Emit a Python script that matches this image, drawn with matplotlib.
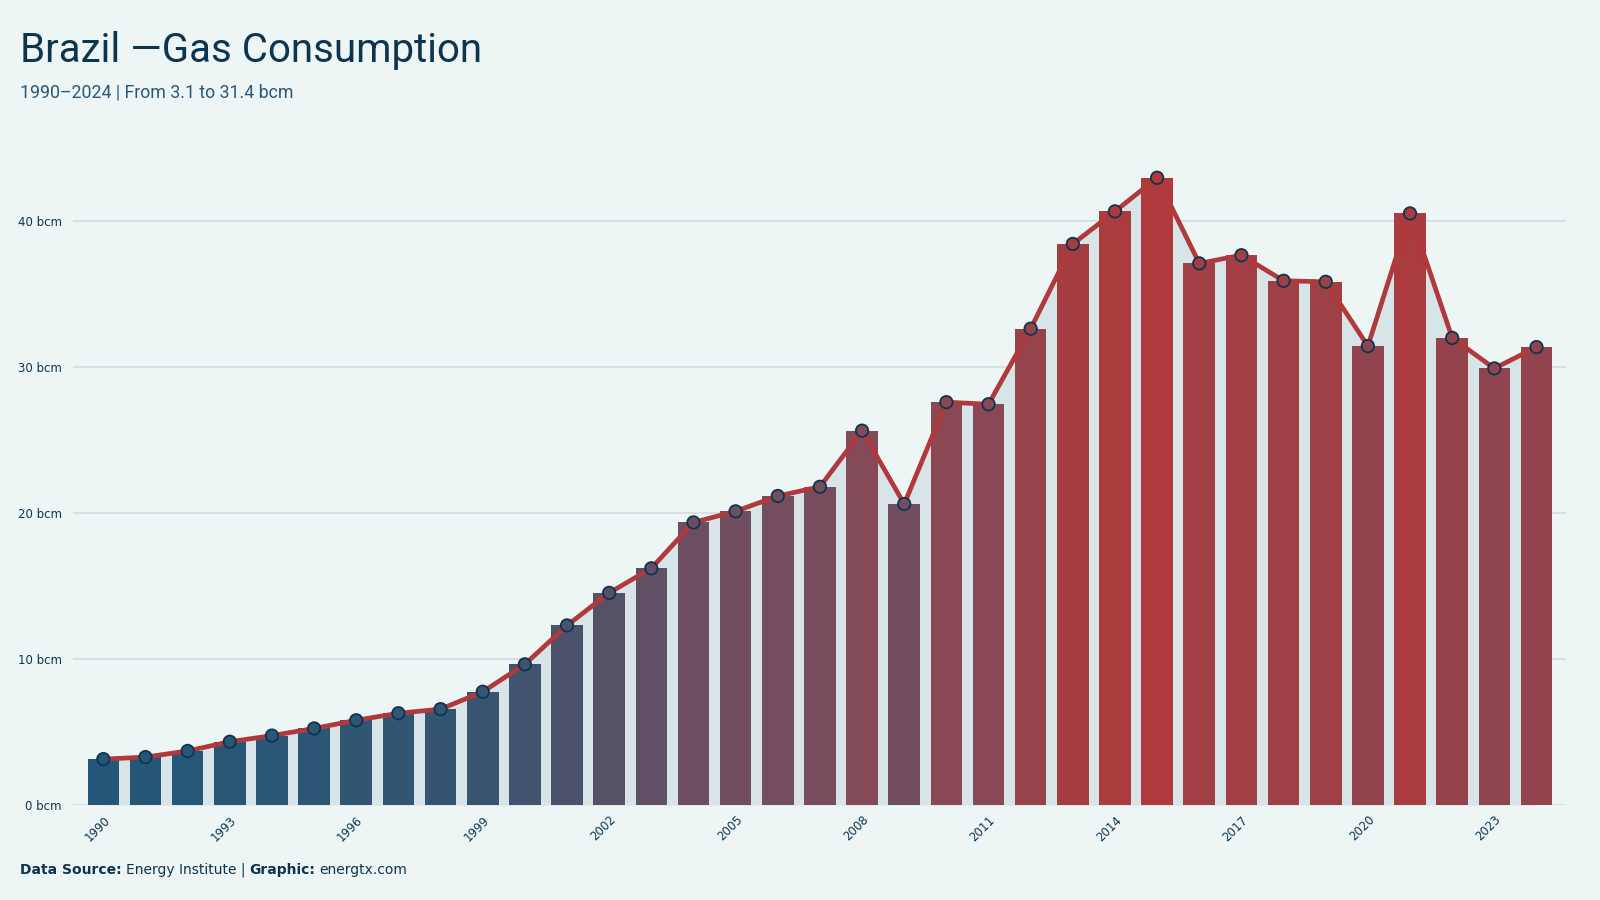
import matplotlib
matplotlib.use("Agg")
import matplotlib.pyplot as plt
import numpy as np
from matplotlib.colors import LinearSegmentedColormap, Normalize

years = list(range(1990, 2025))
values = [3.14, 3.28, 3.70, 4.33, 4.75, 5.24, 5.80, 6.28, 6.56, 7.75,
          9.63, 12.29, 14.52, 16.20, 19.34, 20.10, 21.15, 21.78, 25.62, 20.60,
          27.57, 27.43, 32.60, 38.40, 40.63, 42.93, 37.07, 37.63, 35.88, 35.81,
          31.41, 40.49, 31.97, 29.88, 31.34]
ytick_vals = [0, 10, 20, 30, 40]
ytick_labels = [f"{v} bcm" for v in ytick_vals]
xtick_years = list(range(1990, 2025, 3))

BG = "#eef5f5"
NAVY = "#0d3550"
LINE = "#b0393b"
FILL = "#d7e4e8"
GRID = "#d3dee1"

cmap = LinearSegmentedColormap.from_list(
    "br", [(0.0, "#245777"), (0.5, "#7d4c5b"), (1.0, "#b0393b")])
norm = Normalize(vmin=min(values), vmax=max(values))
colors = [cmap(norm(v)) for v in values]

fig = plt.figure(figsize=(16, 9), dpi=100, facecolor=BG)
ax = fig.add_axes([73/1600, 1-805/900, (1566-73)/1600, (805-150)/900])
ax.set_facecolor(BG)

x = np.arange(len(years))
ax.fill_between(x, values, 0, color=FILL, zorder=1, linewidth=0)
ax.bar(x, values, width=0.75, color=colors, zorder=2, linewidth=0)
ax.plot(x, values, color=LINE, lw=3.4, zorder=3, solid_joinstyle="round")
ax.scatter(x, values, s=80, c=colors, edgecolors=NAVY, linewidths=1.3, zorder=4)

ax.set_xlim(-0.72, 34.7)
ax.set_ylim(0, 44.83)
ax.set_yticks(ytick_vals)
ax.set_yticklabels(ytick_labels)
ax.yaxis.grid(True, color=GRID, lw=1.2, zorder=0)
ax.set_axisbelow(True)
ax.set_xticks([years.index(y) for y in xtick_years])
ax.set_xticklabels([str(y) for y in xtick_years], rotation=45, ha="right",
                   rotation_mode="anchor")
ax.tick_params(axis="both", length=0, labelsize=8.5, labelcolor=NAVY)
ax.tick_params(axis="y", pad=8)
ax.tick_params(axis="x", pad=6)
for s in ax.spines.values():
    s.set_visible(False)

title_fam = ["Roboto", "DejaVu Sans"]
fig.text(20/1600, 1-51/900, "Brazil —Gas Consumption", fontsize=29,
         color=NAVY, family=title_fam, fontstretch="condensed",
         va="center", ha="left")
fig.text(20/1600, 1-93/900, "1990–2024 | From 3.1 to 31.4 bcm", fontsize=12.8,
         color="#2a5878", family=title_fam, fontstretch="condensed",
         va="center", ha="left")

fx = 20/1600
fy = 1-870/900
t1 = fig.text(fx, fy, "Data Source:", fontsize=10, fontweight="bold", color=NAVY, va="center")
fig.canvas.draw()
r = fig.canvas.get_renderer()
def after(t, s, **kw):
    bb = t.get_window_extent(renderer=r)
    return fig.text(bb.x1/1600 + 4/1600, fy, s, fontsize=10, color=NAVY, va="center", **kw)
t2 = after(t1, "Energy Institute |")
t3 = after(t2, "Graphic:", fontweight="bold")
t4 = after(t3, "energtx.com")

fig.savefig("out.png", dpi=100, facecolor=BG)
